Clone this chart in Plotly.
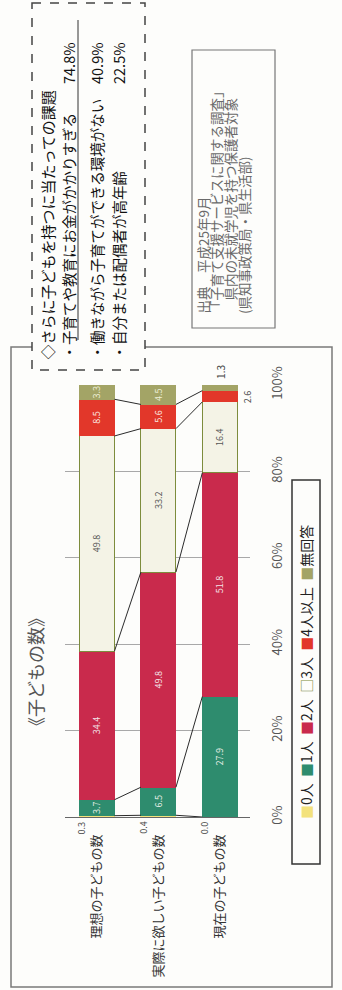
import plotly.graph_objects as go

# ---- data ----
categories = ["理想の子どもの数", "実際に欲しい子どもの数", "現在の子どもの数"]
series_names = ["0人", "1人", "2人", "3人", "4人以上", "無回答"]
v0 = [0.3, 0.4, 0.0]
v1 = [3.7, 6.5, 27.9]
v2 = [34.4, 49.8, 51.8]
v3 = [49.8, 33.2, 16.4]
v4 = [8.5, 5.6, 2.6]
v5 = [3.3, 4.5, 1.3]
series_values = [v0, v1, v2, v3, v4, v5]
colors = ["#f3e27c", "#2e8c6e", "#c92a4c", "#f4f3e6", "#e2372a", "#a3a466"]
text_colors = ["#444", "#e8efe6", "#f4e4e8", "#555", "#fbe8e0", "#eef0d8"]
y_ticks = [0, 20, 40, 60, 80, 100]
y_tick_labels = ["0%", "20%", "40%", "60%", "80%", "100%"]

callout_title = "◇さらに子どもを持つに当たっての課題"
callout_items = ["・子育てや教育にお金がかかりすぎる", "・働きながら子育てができる環境がない", "・自分または配偶者が高年齢"]
callout_pcts = ["74.8%", "40.9%", "22.5%"]
source_lines = ["出典　平成25年9月", "「子育て支援サービスに関する調査」", "　県内の未就学児を持つ保護者対象", "(県知事政策局・県生活部)"]
chart_title = "《子どもの数》"

FONT = "Noto Sans CJK JP"
W, H = 342, 990
L, R, T, B = 65, 250, 385, 817
BARW = 0.57


def px(x):
    return (x - L) / (R - L)


def py(y):
    return (B - y) / (B - T)


xs = list(range(len(categories)))
fig = go.Figure()

for name, vals, col, tcol in zip(series_names, series_values, colors, text_colors):
    txt = [f"{v:.1f}" if v >= 3 and name not in ("0人",) else "" for v in vals]
    fig.add_trace(go.Bar(
        x=xs, y=vals, name=name, width=BARW,
        marker=dict(color=col,
                    line=dict(color="#7d8c3c" if name == "3人" else col, width=1)),
        text=txt, textposition="inside", textangle=-90,
        insidetextanchor="middle",
        textfont=dict(size=9, color=tcol, family=FONT),
        showlegend=False, hoverinfo="skip",
    ))

# connecting lines between bars at cumulative boundaries
cum = []
run = [0.0] * len(categories)
for vals in series_values[:-1]:
    run = [a + b for a, b in zip(run, vals)]
    cum.append(list(run))
lx, ly = [], []
for c in cum:
    for i in range(len(categories) - 1):
        lx += [xs[i] + BARW / 2, xs[i + 1] - BARW / 2, None]
        ly += [c[i], c[i + 1], None]
fig.add_trace(go.Scatter(x=lx, y=ly, mode="lines", line=dict(color="#2b2b2b", width=1),
                         showlegend=False, hoverinfo="skip"))

ann = []
# small outside labels
for i, v in enumerate(v0):
    ann.append(dict(x=xs[i] - BARW / 2 + 0.04, y=0, xref="x", yref="y", text=f"{v:.1f}",
                    textangle=-90, showarrow=False, xanchor="center", yanchor="top",
                    yshift=-2, font=dict(size=9, color="#444", family=FONT)))
ann.append(dict(x=xs[2], y=100, xref="x", yref="y", text=f"{v5[2]:.1f}", textangle=-90,
                showarrow=False, xanchor="center", yanchor="bottom", yshift=4,
                font=dict(size=10, color="#444", family=FONT)))
ann.append(dict(x=xs[2] + BARW / 2, y=100 - v5[2] - v4[2] / 2, xref="x", yref="y",
                text=f"{v4[2]:.1f}", textangle=-90, showarrow=False, xanchor="left",
                yanchor="middle", xshift=1, font=dict(size=9, color="#444", family=FONT)))

# chart title
ann.append(dict(x=px(35), y=py(672), xref="paper", yref="paper", text=chart_title, textangle=-90,
                showarrow=False, xanchor="center", yanchor="middle",
                font=dict(size=18, color="#555", family=FONT)))

# legend as rotated text
leg_parts = []
for name, col in zip(series_names, colors):
    sym = "□" if name == "3人" else "■"
    scol = "#7d8c3c" if name == "3人" else col
    leg_parts.append(f"<span style='color:{scol}'>{sym}</span>{name}")
ann.append(dict(x=px(306), y=py(672), xref="paper", yref="paper", text="  ".join(leg_parts),
                textangle=-90, showarrow=False, xanchor="center", yanchor="middle",
                font=dict(size=14, color="#222", family=FONT)))

# callout text
ann.append(dict(x=px(47), y=py(362), xref="paper", yref="paper", text=callout_title, textangle=-90,
                showarrow=False, xanchor="center", yanchor="bottom",
                font=dict(size=15, color="#111", family=FONT)))
for k, (t, p) in enumerate(zip(callout_items, callout_pcts)):
    xc = [68, 96, 118][k]
    ann.append(dict(x=px(xc), y=py(362), xref="paper", yref="paper", text=t, textangle=-90,
                    showarrow=False, xanchor="center", yanchor="bottom",
                    font=dict(size=14.5, color="#111", family=FONT)))
    ann.append(dict(x=px(xc), y=py(40), xref="paper", yref="paper", text=p, textangle=-90,
                    showarrow=False, xanchor="center", yanchor="top",
                    font=dict(size=14.5, color="#111", family=FONT)))

# source text
for k, t in enumerate(source_lines):
    xc = [203, 216, 230, 244][k]
    ann.append(dict(x=px(xc), y=py(316), xref="paper", yref="paper", text=t, textangle=-90,
                    showarrow=False, xanchor="center", yanchor="bottom",
                    font=dict(size=13.5, color="#6a6a6a", family=FONT)))

shapes = [
    # outer chart frame
    dict(type="rect", xref="paper", yref="paper", x0=px(11), x1=px(332), y0=py(347), y1=py(987),
         line=dict(color="#7a7a7a", width=1.5), fillcolor="rgba(0,0,0,0)", layer="below"),
    # callout dashed box
    dict(type="rect", xref="paper", yref="paper", x0=px(32), x1=px(145), y0=py(3), y1=py(370),
         line=dict(color="#444", width=1.5, dash="dash"), fillcolor="#fdfdfb", layer="above"),
    # underline in callout
    dict(type="line", xref="paper", yref="paper", x0=px(78), x1=px(78), y0=py(20), y1=py(340),
         line=dict(color="#333", width=1)),
    # source box
    dict(type="rect", xref="paper", yref="paper", x0=px(192), x1=px(275), y0=py(50), y1=py(328),
         line=dict(color="#777", width=1.2), fillcolor="rgba(0,0,0,0)"),
    # legend box
    dict(type="rect", xref="paper", yref="paper", x0=px(292), x1=px(320), y0=py(480), y1=py(864),
         line=dict(color="#333", width=1.5), fillcolor="rgba(0,0,0,0)"),
]

fig.update_layout(
    template="none",
    width=W, height=H,
    margin=dict(l=L, r=W - R, t=T, b=H - B, pad=0, autoexpand=False),
    barmode="stack", bargap=0.43,
    paper_bgcolor="#fdfdfb", plot_bgcolor="#fdfdfb",
    font=dict(family=FONT),
    annotations=ann, shapes=shapes,
    uniformtext=dict(minsize=8, mode="show"),
    xaxis=dict(tickmode="array", tickvals=xs, ticktext=categories, tickangle=-90,
               range=[-0.52, 2.49], showgrid=False, zeroline=False, ticks="", automargin=False,
               showline=False,
               tickfont=dict(size=13, color="#333", family=FONT), ticklabelstandoff=14),
    yaxis=dict(tickmode="array", tickvals=y_ticks, ticktext=y_tick_labels, range=[0, 100],
               side="right", tickangle=-90, showgrid=True, gridcolor="#a8a8a8", gridwidth=1,
               zeroline=True, zerolinecolor="#666", zerolinewidth=1.2, ticks="", automargin=False,
               showline=False,
               tickfont=dict(size=13, color="#555", family=FONT), ticklabelstandoff=18),
)

fig.write_html("out.html", config={"displayModeBar": False},
               post_script="document.body.style.margin='0';document.body.style.overflow='hidden';")
